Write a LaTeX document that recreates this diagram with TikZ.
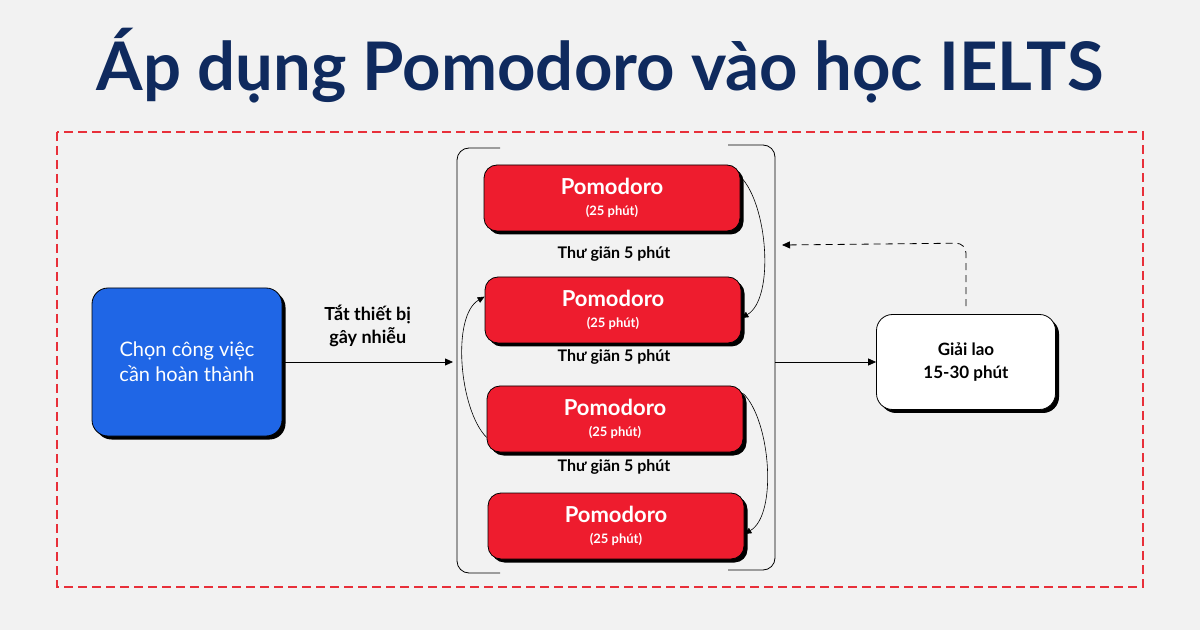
\documentclass[tikz,border=0pt]{standalone}
\usepackage{fontspec}
\setmainfont{Lato}
\usetikzlibrary{shadows,arrows.meta}
\definecolor{bg}{HTML}{F2F2F2}
\definecolor{navy}{HTML}{0F2A5E}
\definecolor{frame}{HTML}{E8303A}
\definecolor{pblue}{HTML}{1F66E6}
\definecolor{pred}{HTML}{EE1C2E}
\tikzset{
  shd/.style={drop shadow={shadow xshift=3.5pt,shadow yshift=-3.5pt,fill=black,opacity=1}},
  redbox/.style={draw=black,line width=0.8pt,fill=pred,rounded corners=13pt,minimum width=256pt,minimum height=66pt,shd,text=white,align=center,font=\bfseries\fontsize{22}{21}\selectfont},
  lbl/.style={font=\bfseries\fontsize{16}{19}\selectfont,align=center},
  arr/.style={-{Triangle[length=8pt,width=7pt]},line width=0.8pt},
  carr/.style={-{Triangle[length=7pt,width=6pt]},line width=0.6pt},
}
\newcommand{\pomo}{Pomodoro\\{\fontsize{13}{14}\selectfont (25 phút)}}
\begin{document}
\begin{tikzpicture}[x=1pt,y=1pt]
\fill[bg] (0,0) rectangle (1200,630);
\useasboundingbox (0,0) rectangle (1200,630);
\node[font=\fontsize{67}{72}\selectfont\bfseries,text=navy] (title) at (600,564) {Áp dụng Pomodoro vào học IELTS};
\draw[frame,line width=2.2pt,dash pattern=on 9pt off 5pt] (57,498) rectangle (1143,43);
% blue box
\node[draw=black,line width=0.8pt,fill=pblue,rounded corners=16pt,minimum width=190pt,minimum height=148pt,shd,text=white,align=center,font=\fontsize{20}{25}\selectfont] (task) at (187,268) {Chọn công việc\\cần hoàn thành};
% bracket
\draw[line width=0.8pt,rounded corners=12pt] (500,482) -- (457,482) -- (457,57) -- (500,57);
\draw[line width=0.8pt,rounded corners=12pt] (728,485) -- (775,485) -- (775,60) -- (728,60);
\coordinate (brL) at (453,268);
\coordinate (brR) at (775,268);
\draw[arr] (task.east) -- node[above=12pt,lbl,font=\fontsize{18}{23}\selectfont\bfseries] {Tắt thiết bị\\gây nhiễu} (brL);
% red boxes
\node[redbox] (p1) at (612,432) {\pomo};
\node[redbox] (p2) at (613,320) {\pomo};
\node[redbox] (p3) at (615,211) {\pomo};
\node[redbox] (p4) at (616,104) {\pomo};
\node[lbl] (t1) at (614,376) {Thư giãn 5 phút};
\node[lbl] (t2) at (614,273) {Thư giãn 5 phút};
\node[lbl] (t3) at (614,163) {Thư giãn 5 phút};
\draw[carr] ([yshift=-12pt]p1.north east) to[out=-45,in=30,looseness=0.7] ([yshift=-8pt]p2.east);
\draw[carr] ([yshift=-8pt]p3.north east) to[out=-45,in=30,looseness=0.7] ([yshift=-8pt]p4.east);
\draw[carr] ([yshift=15pt]p3.south west) to[out=135,in=210,looseness=0.7] ([yshift=-20pt]p2.north west);
% break box
\node[draw=black,line width=0.8pt,fill=white,rounded corners=16pt,minimum width=179pt,minimum height=95pt,shd,align=center,font=\fontsize{17}{23}\selectfont\bfseries] (brk) at (966,268) {Giải lao\\15-30 phút};
\draw[arr] (brR) -- (brk.west);
\coordinate (back) at (782,385);
\draw[arr,dashed,dash pattern=on 7pt off 5pt,rounded corners=10pt] ([yshift=8pt]brk.north) -- ++(0,63) -- (back);
\end{tikzpicture}
\end{document}
